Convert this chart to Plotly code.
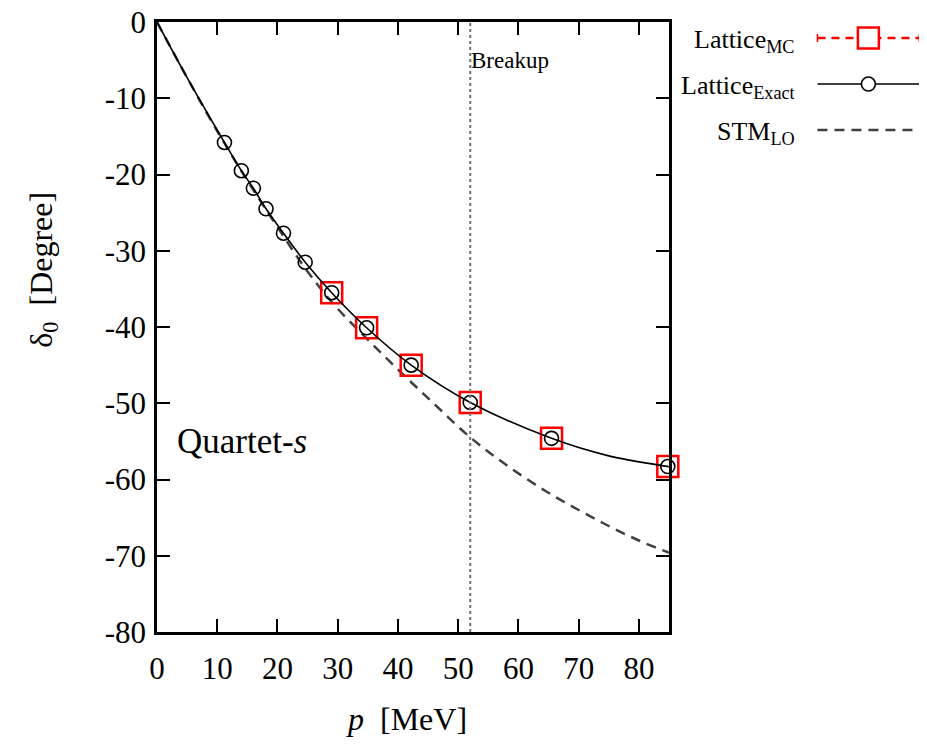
import plotly.graph_objects as go

# ---------------- data ----------------
exact_p = [11.2, 14.0, 16.0, 18.1, 21.0, 24.6, 29.0, 34.8, 42.2, 52.0, 65.5, 84.8]
exact_d = [-15.8, -19.5, -21.8, -24.5, -27.7, -31.5, -35.5, -40.1, -45.0, -49.9, -54.6, -58.3]

exact_curve_p = [0.0, 5.0, 11.2, 14.0, 16.0, 18.1, 21.0, 24.6, 29.0, 34.8, 42.2, 52.0, 65.5, 75.0, 84.8, 85.0]
exact_curve_d = [0.0, -7.3, -15.8, -19.5, -21.8, -24.5, -27.7, -31.5, -35.5, -40.1, -45.0, -49.9, -54.6, -56.9, -58.3, -58.33]

mc_p = [29.0, 34.8, 42.2, 52.0, 65.5, 84.8]
mc_d = [-35.5, -40.1, -45.0, -49.9, -54.6, -58.3]

stm_p = [0.0, 5.0, 10.0, 15.0, 20.0, 24.6, 29.2, 34.8, 40.3, 45.9, 51.9, 58.0, 64.7, 70.0, 75.0, 80.0, 85.0]
stm_d = [0.0, -7.3, -14.3, -20.8, -26.9, -32.3, -36.9, -41.5, -45.8, -50.0, -54.4, -58.1, -61.6, -64.0, -66.1, -68.0, -69.6]

breakup_p = 52.0

x_ticks = [0, 10, 20, 30, 40, 50, 60, 70, 80]
y_ticks = [0, -10, -20, -30, -40, -50, -60, -70, -80]

# ---------------- figure ----------------
W, H = 927, 747
OFF = 8  # page body margin in the screenshot
L, R, T, B = 156.5, 669.3, 22.0, 631.7   # target screen pixels of the plot area
SERIF = "Liberation Serif, Times New Roman, Times, DejaVu Serif, serif"

fig = go.Figure()

fig.add_trace(go.Scatter(x=stm_p, y=stm_d, mode="lines", name="STM_LO",
                         line=dict(color="#404040", width=2.5, dash="10px,7px", shape="spline"),
                         showlegend=False))
fig.add_trace(go.Scatter(x=mc_p, y=mc_d, mode="markers", name="Lattice_MC",
                         marker=dict(symbol="square-open", size=21, color="#ff0000",
                                     line=dict(width=2.5, color="#ff0000")),
                         showlegend=False, cliponaxis=False))
fig.add_trace(go.Scatter(x=exact_curve_p, y=exact_curve_d, mode="lines",
                         line=dict(color="black", width=1.6, shape="spline"),
                         showlegend=False))
fig.add_trace(go.Scatter(x=exact_p, y=exact_d, mode="markers", name="Lattice_Exact",
                         marker=dict(symbol="circle-open", size=14, color="black",
                                     line=dict(width=1.6, color="black")),
                         showlegend=False, cliponaxis=False))

# breakup line
fig.add_shape(type="line", xref="x", yref="paper", x0=breakup_p, x1=breakup_p, y0=0, y1=1,
              line=dict(color="#707070", width=2, dash="dot"))

PW = R - L
PH = B - T
def px(x):
    return (x - L) / PW
def py(y):
    return 1 - (y - T) / PH

fig.add_annotation(x=breakup_p, y=py(60), xref="x", yref="paper", text="Breakup",
                   showarrow=False, xanchor="left", yanchor="middle", xshift=-1,
                   font=dict(family=SERIF, size=23, color="black"))
fig.add_annotation(x=px(175), y=py(441), xref="paper", yref="paper", text="Quartet-<i>s</i>",
                   showarrow=False, xanchor="left", yanchor="middle",
                   font=dict(family=SERIF, size=35, color="black"))

# axis titles
fig.add_annotation(x=px(406), y=py(719), xref="paper", yref="paper", text="<i>p</i>  [MeV]",
                   showarrow=False, xanchor="center", yanchor="middle",
                   font=dict(family=SERIF, size=32, color="black"))
fig.add_annotation(x=px(42), y=py(270), xref="paper", yref="paper", text="δ<sub>0</sub>  [Degree]",
                   showarrow=False, xanchor="center", yanchor="middle", textangle=-90,
                   font=dict(family=SERIF, size=32, color="black"))

# ---------------- custom legend (text right, sample left-to-right) ----------------
leg = [("Lattice<sub>MC</sub>", 38), ("Lattice<sub>Exact</sub>", 84), ("STM<sub>LO</sub>", 130)]
for txt, yy in leg:
    fig.add_annotation(x=px(798), y=py(yy + 3), xref="paper", yref="paper", text=txt,
                       showarrow=False, xanchor="right", yanchor="middle",
                       font=dict(family=SERIF, size=26, color="black"))

x_a, x_b, x_m = 818, 920, 869
fig.add_shape(type="line", xref="paper", yref="paper", x0=px(x_a), x1=px(x_b), y0=py(38), y1=py(38),
              line=dict(color="#ff0000", width=2.5, dash="8px,6px"))
for xc in (x_a, x_b):
    fig.add_shape(type="line", xref="paper", yref="paper", x0=px(xc), x1=px(xc), y0=py(34), y1=py(42),
                  line=dict(color="#ff0000", width=1.5))
fig.add_shape(type="rect", xref="paper", yref="paper", x0=px(x_m - 10.5), x1=px(x_m + 10.5),
              y0=py(38 - 10.5), y1=py(38 + 10.5), line=dict(color="#ff0000", width=2.5),
              fillcolor="white")
fig.add_shape(type="line", xref="paper", yref="paper", x0=px(x_a), x1=px(x_b), y0=py(84), y1=py(84),
              line=dict(color="black", width=1.6))
fig.add_shape(type="circle", xref="paper", yref="paper", x0=px(x_m - 7), x1=px(x_m + 7),
              y0=py(84 - 7), y1=py(84 + 7), line=dict(color="black", width=1.6),
              fillcolor="white")
fig.add_shape(type="line", xref="paper", yref="paper", x0=px(x_a), x1=px(x_b), y0=py(130), y1=py(130),
              line=dict(color="#404040", width=2.5, dash="10px,7px"))

axis_common = dict(showgrid=False, zeroline=False, showline=True, linecolor="black", linewidth=2.5,
                   mirror="ticks", ticks="inside", ticklen=13, tickwidth=2, tickcolor="black",
                   ticklabeloverflow="allow",
                   tickfont=dict(family=SERIF, size=31, color="black"))

fig.update_xaxes(range=[0, 85], tickvals=x_ticks, ticktext=[str(v) for v in x_ticks],
                 ticklabelstandoff=7, **axis_common)
fig.update_yaxes(range=[-80, 0], tickvals=y_ticks, ticktext=[str(v) for v in y_ticks],
                 ticklabelstandoff=2, **axis_common)

fig.update_layout(width=W, height=H, plot_bgcolor="white", paper_bgcolor="white",
                  margin=dict(l=L - OFF, r=W - R + OFF, t=T - OFF, b=H - B + OFF, autoexpand=False),
                  showlegend=False)

fig.write_html("out.html")
